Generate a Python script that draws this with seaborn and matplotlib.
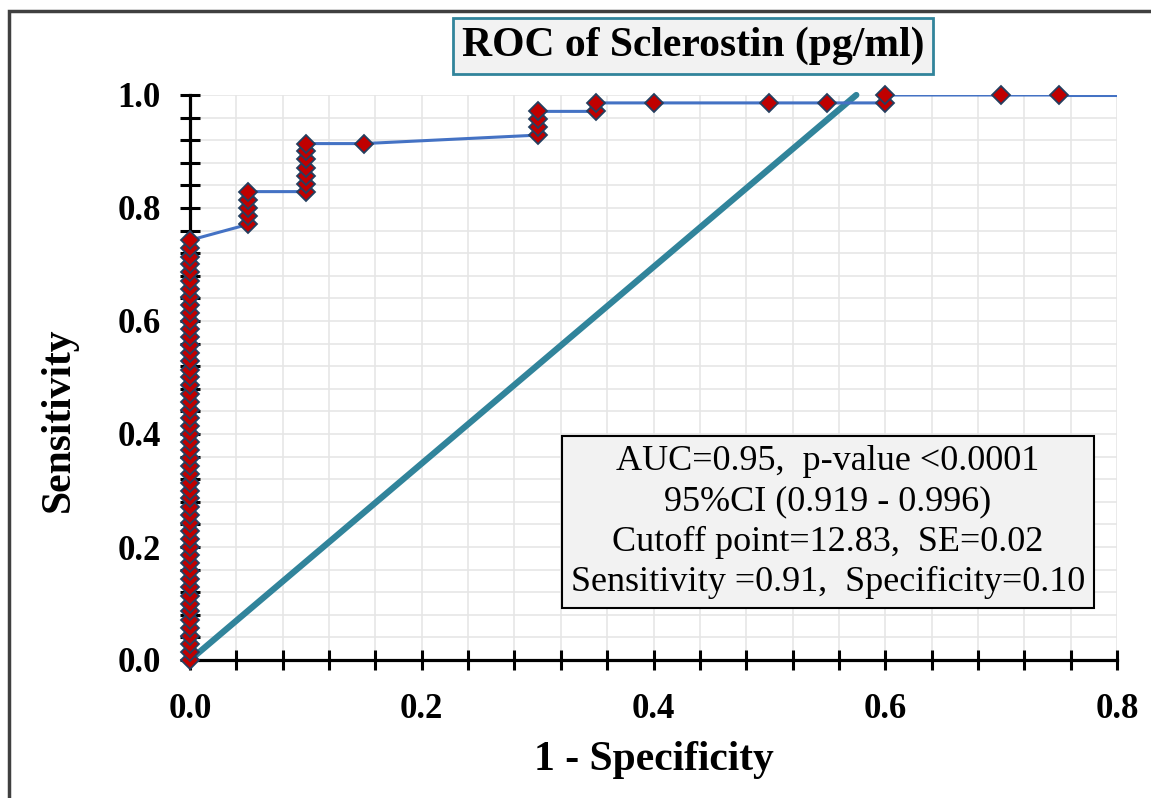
import matplotlib
matplotlib.use("Agg")
import matplotlib.pyplot as plt
import seaborn as sns
import pandas as pd
from matplotlib.patches import Rectangle
from matplotlib.ticker import MultipleLocator

# ROC points (1 - specificity, sensitivity)
fpr = [0.0] * 53 + [0.05] * 5 + [0.1] * 7 + [0.15] + [0.3] * 4 + [0.35] * 2 + \
      [0.4, 0.5, 0.55, 0.6, 0.6, 0.7, 0.75]
tpr = [0.0, 0.014, 0.029, 0.043, 0.057, 0.071, 0.086, 0.1, 0.114, 0.129,
       0.143, 0.157, 0.171, 0.186, 0.2, 0.214, 0.229, 0.243, 0.257, 0.271,
       0.286, 0.3, 0.314, 0.329, 0.343, 0.357, 0.371, 0.386, 0.4, 0.414,
       0.429, 0.443, 0.457, 0.471, 0.486, 0.5, 0.514, 0.529, 0.543, 0.557,
       0.571, 0.586, 0.6, 0.614, 0.629, 0.643, 0.657, 0.671, 0.686, 0.7,
       0.714, 0.729, 0.743,
       0.771, 0.786, 0.8, 0.814, 0.829,
       0.829, 0.843, 0.857, 0.871, 0.886, 0.9, 0.914,
       0.914,
       0.929, 0.943, 0.957, 0.971,
       0.971, 0.986,
       0.986, 0.986, 0.986, 0.986, 1.0, 1.0, 1.0]
# curve runs on to the right edge without a marker
end_x = [0.75, 0.8]
end_y = [1.0, 1.0]
# reference line as drawn in the chart
ref_x = [0.0, 0.575]
ref_y = [0.0, 1.0]

x_ticks = [0.0, 0.2, 0.4, 0.6, 0.8]
x_labels = ["0.0", "0.2", "0.4", "0.6", "0.8"]
y_ticks = [0.0, 0.2, 0.4, 0.6, 0.8, 1.0]
y_labels = ["0.0", "0.2", "0.4", "0.6", "0.8", "1.0"]

stats_text = ["AUC=0.95,  p-value <0.0001",
              "95%CI (0.919 - 0.996)",
              "Cutoff point=12.83,  SE=0.02",
              "Sensitivity =0.91,  Specificity=0.10"]

roc = pd.DataFrame({"fpr": fpr, "tpr": tpr})

sns.set_style("white")
plt.rcParams["font.family"] = ["Liberation Serif", "DejaVu Serif"]
plt.rcParams["text.color"] = "black"
plt.rcParams["axes.labelcolor"] = "black"
plt.rcParams["xtick.color"] = "black"
plt.rcParams["ytick.color"] = "black"

fig = plt.figure(figsize=(11.51, 7.98), dpi=100)
ax = fig.add_axes([190 / 1151, 1 - 660 / 798, 927 / 1151, 565 / 798])

sns.lineplot(x=ref_x, y=ref_y, ax=ax, color="#31849B", lw=4.5, clip_on=False)
sns.lineplot(data=roc, x="fpr", y="tpr", sort=False, estimator=None, ax=ax,
             color="#4472C4", lw=2.2)
sns.lineplot(x=end_x, y=end_y, ax=ax, color="#4472C4", lw=2.2)
ax.plot(roc["fpr"], roc["tpr"], ls="none", marker="D", ms=9.5,
        mfc="#C00000", mec="#243F60", mew=1.3, clip_on=False, zorder=5)

ax.set_xlim(0, 0.8)
ax.set_ylim(0, 1.0)

# labels every 0.2, ticks and grid every 0.04
ax.set_xticks(x_ticks, labels=x_labels, fontweight="bold", fontsize=25)
ax.set_yticks(y_ticks, labels=y_labels, fontweight="bold", fontsize=25)
ax.xaxis.set_minor_locator(MultipleLocator(0.04))
ax.yaxis.set_minor_locator(MultipleLocator(0.04))
ax.grid(True, which="both", color="#e6e6e6", lw=1.2)
ax.set_axisbelow(True)

for s in ["top", "right"]:
    ax.spines[s].set_visible(False)
for s in ["left", "bottom"]:
    ax.spines[s].set_color("black")
    ax.spines[s].set_linewidth(2.3)
ax.tick_params(which="both", bottom=True, left=True, direction="inout",
               length=14, width=2.2, color="black")
ax.tick_params(axis="x", which="major", pad=17)
ax.tick_params(axis="y", which="major", pad=14)

ax.set_xlabel("1 - Specificity", fontsize=30, fontweight="bold", va="center")
ax.set_ylabel("Sensitivity", fontsize=30, fontweight="bold", va="center")
ax.xaxis.set_label_coords(0.5, -0.177)
ax.yaxis.set_label_coords(-0.142, 0.425)

# title in a box
fig.text(693 / 1151, 1 - 46 / 798, "ROC of Sclerostin (pg/ml)", fontsize=30,
         fontweight="bold", ha="center", va="center",
         bbox=dict(boxstyle="square,pad=0.2", fc="#f2f2f2", ec="#31849B", lw=2))

# stats box
fig.text(828 / 1151, 1 - 522 / 798, "\n".join(stats_text), fontsize=26,
         ha="center", va="center", linespacing=1.3,
         bbox=dict(boxstyle="square,pad=0.25", fc="#f2f2f2", ec="black", lw=1.5))

# outer frame
fig.patches.append(Rectangle((9 / 1151, -0.1), 1.2, 1.1 - 11 / 798,
                             transform=fig.transFigure, fill=False,
                             ec="#404040", lw=2.5))

fig.savefig("out.png", dpi=100)
